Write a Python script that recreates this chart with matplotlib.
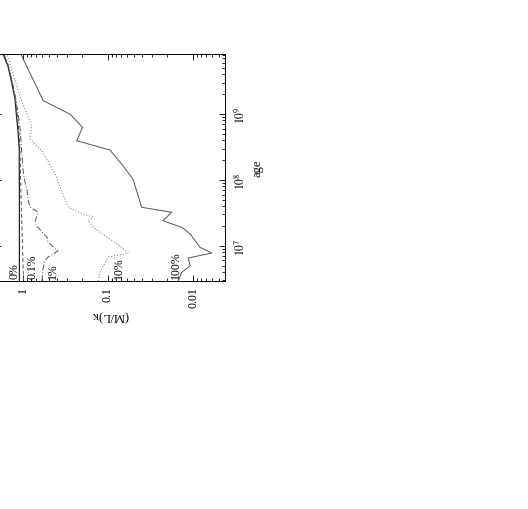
import matplotlib
matplotlib.use("Agg")
import matplotlib.pyplot as plt
import numpy as np
from matplotlib.ticker import LogLocator, NullFormatter

plt.rcParams['font.family'] = ['Liberation Serif', 'DejaVu Serif']
plt.rcParams['mathtext.fontset'] = 'stix'

# the page is turned on its side: M/L runs along x (inverted), age along y
age_0 = [2.91e6, 5.13e7, 2.95e8, 5.35e8, 9.35e8, 1.69e9, 3.08e9, 5.38e9, 8.18e9]
ml_0 = [1.10, 1.10, 1.105, 1.14, 1.19, 1.24, 1.36, 1.50, 1.71]

age_01 = [2.91e6, 8.91e6, 2.82e7, 9.29e7, 2.95e8, 5.35e8, 9.35e8, 1.69e9, 3.08e9, 5.38e9, 8.18e9]
ml_01 = [0.986, 1.008, 1.036, 1.064, 1.085, 1.114, 1.16, 1.225, 1.35, 1.48, 1.67]

age_1 = [2.91e6, 4.43e6, 5.85e6, 6.73e6, 8.30e6, 1.14e7, 1.36e7, 1.61e7, 1.99e7, 2.29e7,
         3.25e7, 3.87e7, 5.13e7, 7.28e7, 9.29e7, 1.47e8, 2.95e8, 5.35e8, 9.35e8, 1.69e9,
         3.08e9, 5.38e9, 8.18e9]
ml_1 = [0.598, 0.582, 0.551, 0.508, 0.388, 0.508, 0.522, 0.598, 0.684, 0.723,
        0.667, 0.828, 0.873, 0.897, 0.947, 1.0, 1.04, 1.07, 1.13, 1.21,
        1.33, 1.48, 1.67]

age_10 = [2.91e6, 3.98e6, 6.73e6, 7.74e6, 9.89e6, 1.26e7, 1.73e7, 2.40e7, 2.73e7, 3.03e7,
          3.84e7, 5.13e7, 1.23e8, 2.78e8, 4.19e8, 6.61e8, 1.00e9, 1.69e9, 3.66e9, 8.18e9]
ml_10 = [0.130, 0.124, 0.0991, 0.0577, 0.0722, 0.0947, 0.136, 0.172, 0.150, 0.197,
         0.293, 0.321, 0.420, 0.598, 0.828, 0.790, 0.897, 1.056, 1.276, 1.54]

age_100 = [2.91e6, 3.94e6, 4.97e6, 6.50e6, 7.74e6, 9.46e6, 1.51e7, 1.91e7, 2.40e7, 3.22e7,
           3.84e7, 1.03e8, 1.64e8, 2.84e8, 3.94e8, 6.31e8, 1.00e9, 1.60e9, 8.18e9]
ml_100 = [0.0149, 0.0136, 0.0108, 0.0114, 0.00603, 0.00828, 0.0108, 0.0136, 0.0227, 0.0178,
          0.0402, 0.0508, 0.0667, 0.0947, 0.233, 0.199, 0.280, 0.577, 1.06]

label_text = ['0%', '0.1%', '1%', '10%', '100%']
label_ml = [1.24, 0.763, 0.444, 0.0743, 0.0159]
label_age = 3.2e6

fig = plt.figure(figsize=(5.28, 5.10), dpi=100)
ax = fig.add_axes([-5/528, 1 - 282/510, 230/528, 227/510])
ax.set_xscale('log')
ax.set_yscale('log')

ax.plot(ml_0, age_0, color='#222222', lw=0.9)
ax.plot(ml_01, age_01, color='#555555', lw=0.7, dashes=(4, 2.5))
ax.plot(ml_1, age_1, color='#555555', lw=0.7, dashes=(6, 2, 1, 2))
ax.plot(ml_10, age_10, color='#666666', lw=0.7, dashes=(1, 2))
ax.plot(ml_100, age_100, color='#555555', lw=0.7)

for t, m in zip(label_text, label_ml):
    ax.text(m, label_age, t, rotation=90, rotation_mode='anchor',
            ha='left', va='center', fontsize=8.5)

ax.set_xlim(2.13, 0.00421)
ax.set_ylim(2.91e6, 8.19e9)

ax.set_xticks([1, 0.1, 0.01], ['1', '0.1', '0.01'])
ax.set_yticks([1e7, 1e8, 1e9], [r'$10^7$', r'$10^8$', r'$10^9$'])
ax.xaxis.set_minor_locator(LogLocator(subs=np.arange(2, 10)))
ax.yaxis.set_minor_locator(LogLocator(subs=np.arange(2, 10)))
ax.xaxis.set_minor_formatter(NullFormatter())
ax.yaxis.set_minor_formatter(NullFormatter())

ax.tick_params(which='both', direction='in', top=True, bottom=True, left=True, right=True,
               labelleft=False, labelright=True, width=0.6, labelsize=8.5)
ax.tick_params(which='major', length=4.5)
ax.tick_params(which='minor', length=2.5)
ax.tick_params(axis='x', labelrotation=90, pad=4)
ax.tick_params(axis='y', labelrotation=90, pad=6)
for lbl in ax.get_yticklabels():
    lbl.set_va('center')

for s in ax.spines.values():
    s.set_linewidth(0.7)

ax.set_xlabel(r'(M/L)$_{\rm K}$', rotation=180, fontsize=9, labelpad=0)
ax.yaxis.set_label_position('right')
ax.set_ylabel('age', rotation=90, fontsize=9, labelpad=3)

plt.savefig('out.png', dpi=100)
